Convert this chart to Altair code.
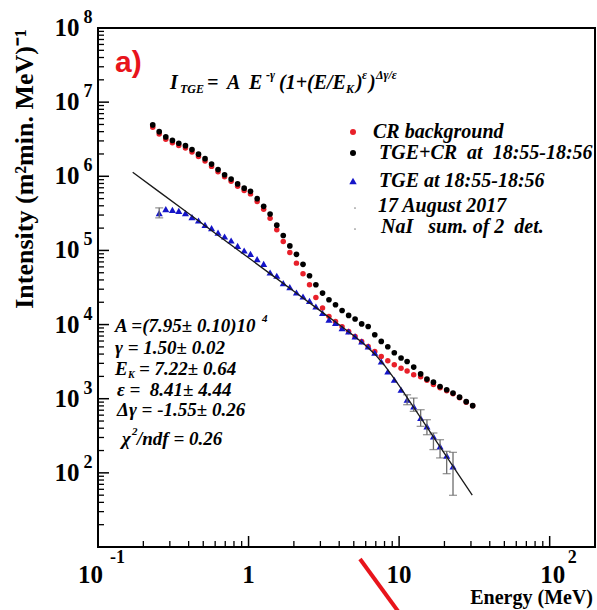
import altair as alt
import pandas as pd

SERIF = "Liberation Serif"
NB = "\u00a0"

# ---------------- data ----------------
energy = [0.231, 0.255, 0.282, 0.312, 0.344, 0.381, 0.421, 0.465, 0.514, 0.568,
          0.627, 0.693, 0.766, 0.846, 0.935, 1.03, 1.14, 1.26, 1.39, 1.54,
          1.70, 1.88, 2.08, 2.30, 2.54, 2.80, 3.10, 3.42, 3.78, 4.18,
          4.62, 5.10, 5.64, 6.23, 6.89, 7.61, 8.41, 9.29, 10.3, 11.3,
          12.5, 13.9, 15.3, 16.9, 18.7, 20.7, 22.8, 25.2, 27.9, 30.8]

cr_background = [4.59e6, 3.73e6, 3.16e6, 2.84e6, 2.60e6, 2.41e6, 2.13e6, 1.85e6, 1.61e6, 1.36e6,
                 1.15e6, 9.82e5, 8.54e5, 7.36e5, 6.44e5, 5.79e5, 4.56e5, 3.60e5, 2.72e5, 1.90e5,
                 1.32e5, 9.37e4, 6.74e4, 4.84e4, 3.44e4, 2.31e4, 1.67e4, 1.29e4, 1.10e4, 9.33e3,
                 8.07e3, 6.92e3, 5.92e3, 5.07e3, 4.34e3, 3.72e3, 3.25e3, 2.87e3, 2.58e3, 2.37e3,
                 2.10e3, 1.98e3, 1.77e3, 1.55e3, 1.41e3, 1.28e3, 1.17e3, 1.03e3, 898, 805]

tge_cr = [4.93e6, 4.00e6, 3.40e6, 3.05e6, 2.79e6, 2.59e6, 2.29e6, 1.99e6, 1.73e6, 1.46e6,
          1.23e6, 1.05e6, 9.17e5, 7.90e5, 6.92e5, 6.26e5, 4.99e5, 3.93e5, 3.10e5, 2.19e5,
          1.59e5, 1.15e5, 8.86e4, 6.50e4, 4.55e4, 3.44e4, 2.66e4, 2.16e4, 1.85e4, 1.55e4,
          1.33e4, 1.19e4, 1.02e4, 9.43e3, 7.29e3, 5.92e3, 5.02e3, 4.17e3, 3.54e3, 3.18e3,
          2.67e3, 2.16e3, 1.84e3, 1.67e3, 1.46e3, 1.32e3, 1.19e3, 1.05e3, 912, 805]

tge_energy = [0.255, 0.282, 0.312, 0.344, 0.381, 0.421, 0.465, 0.514, 0.568,
              0.627, 0.693, 0.766, 0.846, 0.935, 1.03, 1.14, 1.26, 1.39, 1.54,
              1.70, 1.88, 2.08, 2.30, 2.54, 2.80, 3.10, 3.42, 3.78, 4.18,
              4.62, 5.10, 5.64, 6.23, 6.89, 7.61, 8.41, 9.29, 10.3, 11.3,
              12.5, 13.9, 15.3, 16.9, 18.7, 20.7, 22.8]
tge = [3.18e5, 3.60e5, 3.52e5, 3.42e5, 3.18e5, 2.81e5, 2.53e5, 2.21e5, 2.00e5,
       1.74e5, 1.54e5, 1.36e5, 1.15e5, 9.97e4, 9.00e4, 7.64e4, 6.59e4, 5.04e4, 4.55e4,
       3.62e4, 3.20e4, 2.71e4, 2.39e4, 2.09e4, 1.75e4, 1.43e4, 1.16e4, 1.05e4, 8.97e3,
       8.07e3, 6.92e3, 5.92e3, 5.07e3, 4.17e3, 3.18e3, 2.33e3, 1.80e3, 1.32e3, 970,
       787, 550, 424, 310, 228, 171, 122]

err_energy = [0.255, 11.3, 12.5, 13.9, 15.3, 16.9, 18.7, 20.7, 22.8]
err_low = [2.75e5, 830, 675, 424, 327, 206, 159, 97.5, 49.8]
err_high = [3.75e5, 1130, 1020, 711, 521, 345, 280, 195, 189]

fit_energy = [0.17, 0.25, 0.4, 0.6, 1, 1.5, 2, 3, 4, 5, 6, 7, 8, 9, 10, 11, 12,
              13.5, 15, 17.5, 20, 25, 30.6]
fit_intensity = [1.134e6, 6.36e5, 3.14e5, 1.71e5, 7.95e4, 4.33e4, 2.81e4, 1.53e4,
                 9925, 7053, 5222, 3863, 2808, 2037, 1501, 1129, 868, 607, 440,
                 275, 183, 92.7, 50.0]

# axis ticks and labels
y_major = [1e1, 1e2, 1e3, 1e4, 1e5, 1e6, 1e7, 1e8]
y_minor = [m * 10 ** k for k in range(1, 8) for m in range(2, 10)]
x_major = [0.1, 1, 10, 100]
x_minor = [m * 10.0 ** k for k in (-1, 0, 1) for m in range(2, 10)]
y_label_values = [1e2, 1e3, 1e4, 1e5, 1e6, 1e7, 1e8]
y_label_exps = ["2", "3", "4", "5", "6", "7", "8"]

W, H = 497, 519
xs = alt.Scale(type="log", domain=[0.1, 200], nice=False)
ys = alt.Scale(type="log", domain=[10, 1e8], nice=False)


def X(f="E"):
    return alt.X(f"{f}:Q", scale=xs, axis=None)


def Y(f="I"):
    return alt.Y(f"{f}:Q", scale=ys, axis=None)


def txt(text, x, y, size, style="italic", weight="bold", align="left",
        color="black", font=SERIF, angle=0):
    return alt.Chart(alt.Data(values=[{"t": text}])).mark_text(
        align=align, baseline="middle", fontSize=size, fontStyle=style,
        fontWeight=weight, font=font, color=color, angle=angle
    ).encode(x=alt.value(x), y=alt.value(y), text="t:N")


def dot(x, y, shape, color, size):
    return alt.Chart(alt.Data(values=[{}])).mark_point(
        shape=shape, filled=True, color=color, size=size, opacity=1
    ).encode(x=alt.value(x), y=alt.value(y))


df_cr = pd.DataFrame({"E": energy, "I": cr_background})
df_tot = pd.DataFrame({"E": energy, "I": tge_cr})
df_tge = pd.DataFrame({"E": tge_energy, "I": tge})
df_err = pd.DataFrame({"E": err_energy, "lo": err_low, "hi": err_high})
df_fit = pd.DataFrame({"E": fit_energy, "I": fit_intensity})

layers = []

# ticks (inward)
layers.append(alt.Chart(pd.DataFrame({"v": y_major})).mark_rule(color="black", strokeWidth=1.5)
              .encode(y=alt.Y("v:Q", scale=ys, axis=None), x=alt.value(0), x2=alt.value(11)))
layers.append(alt.Chart(pd.DataFrame({"v": y_minor})).mark_rule(color="black", strokeWidth=1.3)
              .encode(y=alt.Y("v:Q", scale=ys, axis=None), x=alt.value(0), x2=alt.value(6)))
layers.append(alt.Chart(pd.DataFrame({"v": x_major})).mark_rule(color="black", strokeWidth=1.5)
              .encode(x=alt.X("v:Q", scale=xs, axis=None), y=alt.value(H), y2=alt.value(H - 11)))
layers.append(alt.Chart(pd.DataFrame({"v": x_minor})).mark_rule(color="black", strokeWidth=1.3)
              .encode(x=alt.X("v:Q", scale=xs, axis=None), y=alt.value(H), y2=alt.value(H - 6)))

# y tick labels
ylab = pd.DataFrame({"v": y_label_values, "e": y_label_exps})
layers.append(alt.Chart(ylab).mark_text(align="center", baseline="middle", fontSize=25,
                                        fontWeight="bold", font=SERIF, color="black")
              .encode(y=alt.Y("v:Q", scale=ys, axis=None), x=alt.value(-31), text=alt.value("10")))
layers.append(alt.Chart(ylab).mark_text(align="center", baseline="middle", fontSize=18,
                                        fontWeight="bold", font=SERIF, color="black", dy=-10)
              .encode(y=alt.Y("v:Q", scale=ys, axis=None), x=alt.value(-10), text="e:N"))


# x tick labels
def xlab(v, text, dx, dy, size, align="center"):
    return alt.Chart(pd.DataFrame({"v": [v]})).mark_text(
        align=align, baseline="middle", fontSize=size, fontWeight="bold",
        font=SERIF, color="black", dx=dx
    ).encode(x=alt.X("v:Q", scale=xs, axis=None), y=alt.value(dy), text=alt.value(text))


layers += [
    xlab(0.1, "10", 5, 547, 25, align="right"),
    xlab(0.1, "-1", 12, 530, 18, align="left"),
    xlab(1, "1", 0, 547, 25),
    xlab(10, "10", 0, 547, 25),
    xlab(100, "10", 3, 547, 25),
    xlab(100, "2", 18, 530, 18, align="left"),
]

# data marks
layers.append(alt.Chart(df_cr).mark_point(shape="circle", filled=True, color="#e8202a", size=30, opacity=1)
              .encode(x=X(), y=Y()))
layers.append(alt.Chart(df_tot).mark_point(shape="circle", filled=True, color="black", size=32, opacity=1)
              .encode(x=X(), y=Y()))
layers.append(alt.Chart(df_tge).mark_point(shape="triangle-up", filled=True, color="#1515c8", size=50, opacity=1)
              .encode(x=X(), y=Y()))
layers.append(alt.Chart(df_err).mark_rule(color="#6d6d6d", strokeWidth=1.3)
              .encode(x=X(), y=Y("lo"), y2="hi:Q"))
layers.append(alt.Chart(df_err).mark_tick(color="#6d6d6d", orient="horizontal", size=8, thickness=1.3)
              .encode(x=X(), y=Y("lo")))
layers.append(alt.Chart(df_err).mark_tick(color="#6d6d6d", orient="horizontal", size=8, thickness=1.3)
              .encode(x=X(), y=Y("hi")))
layers.append(alt.Chart(df_fit).mark_line(color="#1a1a1a", strokeWidth=1.3)
              .encode(x=X(), y=Y()))

# panel label and formula
layers.append(txt("a)", 17, 35, 30, style="normal", font="Liberation Sans", color="#e8141b"))
layers += [
    txt("I", 72, 55, 20),
    txt("TGE", 82, 61, 12),
    txt("=", 109, 55, 20),
    txt("A", 129, 55, 20),
    txt("E", 151, 55, 20),
    txt("-γ", 168, 47, 12),
    txt("(1+(E/E", 181, 55, 20),
    txt("K", 248, 61, 12),
    txt(")", 258, 55, 20),
    txt("ε", 264, 47, 12),
    txt(")", 271, 55, 20),
    txt("Δγ/ε", 278, 47, 12),
]

# legend
layers += [
    dot(255, 104, "circle", "#e8202a", 36),
    txt("CR background", 275, 104, 20),
    dot(255, 125, "circle", "black", 36),
    txt(f"TGE+CR{NB}{NB}at{NB}{NB}18:55-18:56", 281, 125, 20),
    dot(255, 153, "triangle-up", "#1515c8", 55),
    txt("TGE at 18:55-18:56", 281, 153, 20),
    dot(257, 180, "circle", "#888888", 3),
    txt("17 August 2017", 280, 178, 20),
    dot(257, 201, "circle", "#888888", 3),
    txt(f"NaI{NB}{NB} sum. of 2{NB} det.", 283, 199, 20),
]

# fit parameters
layers += [
    txt("A =(7.95± 0.10)10", 17, 298, 19),
    txt("4", 164, 291, 11),
    txt("γ = 1.50± 0.02", 17, 320, 19),
    txt("E", 17, 341, 19),
    txt("K", 30, 347, 10),
    txt("= 7.22± 0.64", 41, 341, 19),
    txt(f"ε ={NB} 8.41± 4.44", 19, 362, 19),
    txt("Δγ = -1.55± 0.26", 19, 382, 19),
    txt("χ", 24, 411, 19),
    txt("2", 34, 404, 11),
    txt("/ndf = 0.26", 39, 411, 19),
]

# axis titles
layers.append(txt("Intensity (m²min. MeV)⁻¹", -73, 141, 26, style="normal", angle=270, align="center"))
layers.append(txt("Energy  (MeV)", 495, 570, 20, style="normal", align="right"))

# red slash annotation
layers.append(alt.Chart(alt.Data(values=[{}])).mark_rule(color="#e8141b", strokeWidth=4)
              .encode(x=alt.value(262), y=alt.value(531), x2=alt.value(305), y2=alt.value(590)))

chart = alt.layer(*layers).properties(
    width=W, height=H,
    autosize=alt.AutoSizeParams(type="none"),
    padding={"left": 98, "top": 28, "right": 2, "bottom": 63},
).configure_view(stroke="black", strokeWidth=2)

chart.save("out.html", embed_options={"renderer": "svg", "actions": False})
